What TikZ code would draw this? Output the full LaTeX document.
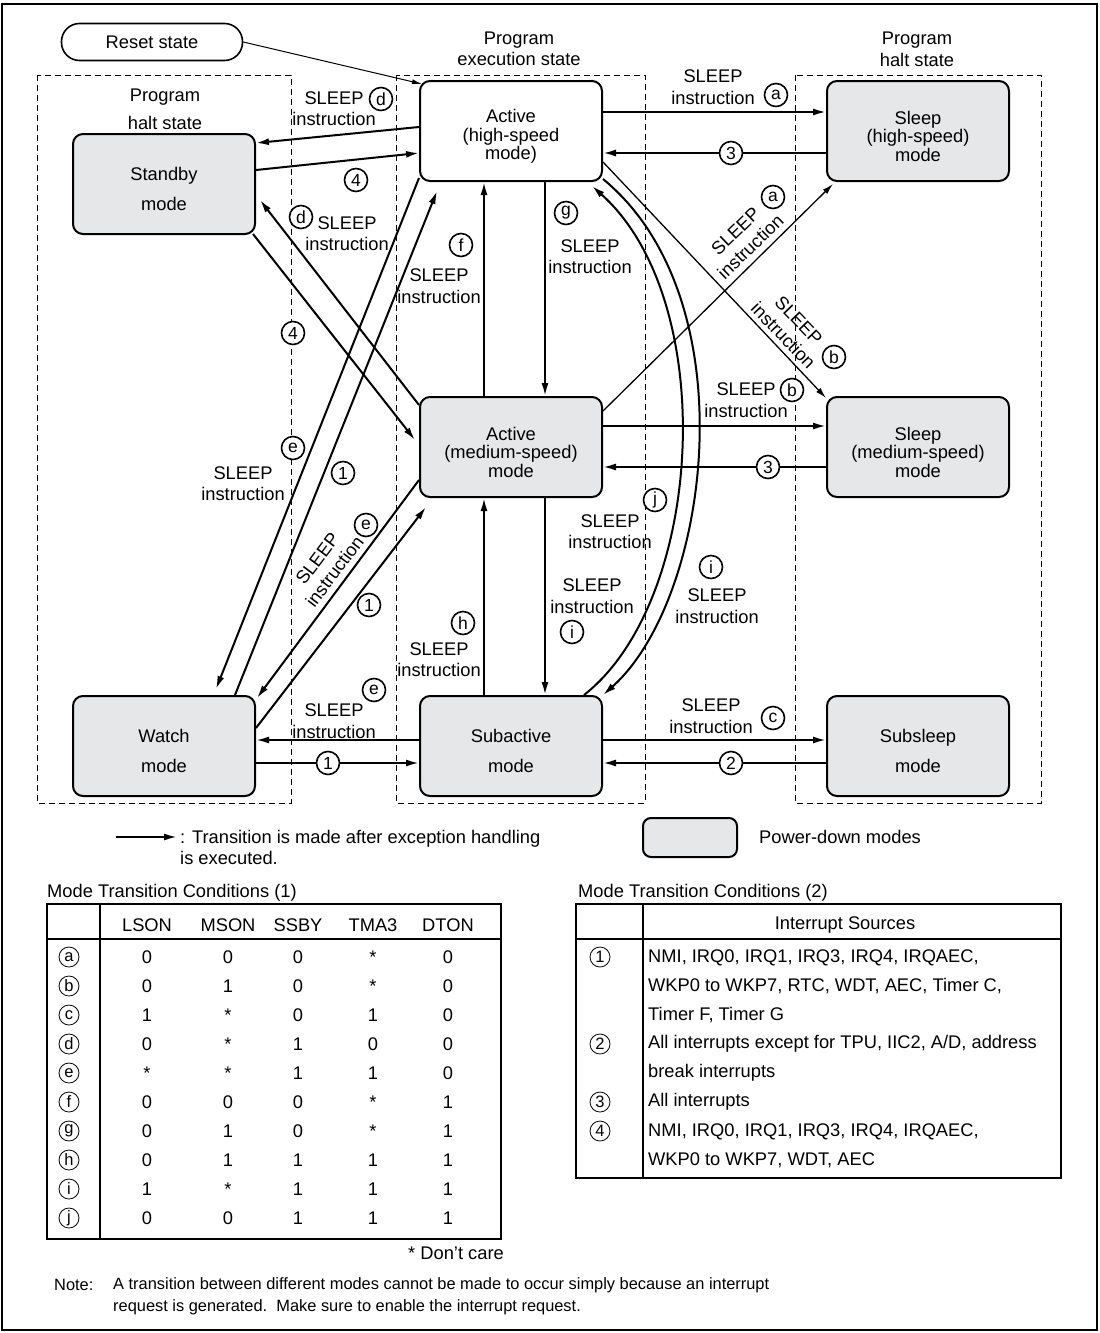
\documentclass[tikz,border=0pt]{standalone}
\usepackage{fontspec}
\setmainfont{Liberation Sans}
\usepackage{tikz}
\usetikzlibrary{arrows.meta}
\usetikzlibrary{calc}

\definecolor{pdgray}{RGB}{230,231,232}
\newcommand{\boxtop}{\rule{0pt}{24pt}}

\begin{document}
\begin{tikzpicture}[x=1pt, y=-1pt, font=\fontsize{18.3}{21.5}\selectfont,
  mode/.style={draw, line width=2pt, rounded corners=10pt, minimum width=182pt, minimum height=100pt, align=center, inner sep=0pt},
  pd/.style={mode, fill=pdgray},
  region/.style={line width=0.8pt, dash pattern=on 6pt off 4pt},
  tr/.style={line width=2pt, -{Latex[length=13pt,width=7pt]}},
  fine/.style={line width=1.3pt, -{Latex[length=11pt,width=6pt]}},
  cn/.style={circle, draw, line width=1.6pt, fill=white, inner sep=0pt, minimum size=23pt, font=\fontsize{17.5}{17.5}\selectfont},
  tc/.style={circle, draw, line width=0.8pt, inner sep=0pt, minimum size=20pt, font=\fontsize{16.5}{16.5}\selectfont},
  lbl/.style={align=center, inner sep=0pt},
  three/.style={font=\fontsize{18.3}{18.5}\selectfont},
  two/.style={font=\fontsize{18.3}{30}\selectfont}]

\useasboundingbox (0,0) rectangle (1100,1333);
\draw[line width=2pt] (2,4) rectangle (1097,1330);

% state regions
\draw[region] (37,75) rectangle (291,803);
\draw[region] (396,75) rectangle (645,803);
\draw[region] (795,75) rectangle (1041,803);
\node[lbl] (hltL) at (165,109) {Program\\[6.5pt]halt state};
\node[lbl] (exe) at (519,49) {Program\\execution state};
\node[lbl] (hltR) at (917,49.5) {Program\\halt state};

% modes
\node[draw, line width=1.6pt, rounded corners=18pt, minimum width=181pt, minimum height=37pt] (reset) at (152,42) {Reset state};
\node[pd, two] (stby) at (164,184) {\boxtop Standby\\mode};
\node[mode, three] (acth) at (511,131) {\boxtop Active\\(high-speed\\mode)};
\node[pd, three] (slph) at (918,131) {\boxtop Sleep\\(high-speed)\\mode};
\node[pd, three] (actm) at (511,447) {\boxtop Active\\(medium-speed)\\mode};
\node[pd, three] (slpm) at (918,447) {\boxtop Sleep\\(medium-speed)\\mode};
\node[pd, two] (watch) at (164,746) {\boxtop Watch\\mode};
\node[pd, two] (subact) at (511,746) {\boxtop Subactive\\mode};
\node[pd, two] (subslp) at (918,746) {\boxtop Subsleep\\mode};

% transitions
\draw[line width=1pt, -{Latex[length=10pt,width=5pt]}] (reset.east) -- ([xshift=3pt,yshift=-4pt]acth.north west);
\draw[tr] ([yshift=4pt]acth.west) -- ([yshift=41pt]stby.east);
\draw[tr] ([yshift=14pt]stby.east) -- ([yshift=-22pt]acth.west);
\draw[tr] ([yshift=19pt]acth.east) -- ([yshift=19pt]slph.west);
\draw[tr] ([yshift=-22pt]slph.west) -- ([yshift=-22pt]acth.east);
\draw[tr] ([yshift=21pt]actm.east) -- ([yshift=21pt]slpm.west);
\draw[tr] ([yshift=-20pt]slpm.west) -- ([yshift=-20pt]actm.east);
\draw[tr] ([yshift=6pt]subact.east) -- ([yshift=6pt]subslp.west);
\draw[tr] ([yshift=-17pt]subslp.west) -- ([yshift=-17pt]subact.east);
\draw[tr] ([yshift=6pt]subact.west) -- ([yshift=6pt]watch.east);
\draw[tr] ([yshift=-17pt]watch.east) -- ([yshift=-17pt]subact.west);
\draw[tr] ([xshift=-27pt]actm.north) -- ([xshift=-27pt]acth.south);
\draw[tr] ([xshift=34pt]acth.south) -- ([xshift=34pt]actm.north);
\draw[tr] ([xshift=-27pt]subact.north) -- ([xshift=-27pt]actm.south);
\draw[tr] ([xshift=34pt]actm.south) -- ([xshift=34pt]subact.north);
\draw[tr] ([yshift=-9pt]actm.north west) -- ([xshift=4pt,yshift=-16pt]stby.east);
\draw[tr] ([xshift=-3pt,yshift=1pt]stby.south east) -- ([xshift=-4pt,yshift=7pt]actm.west);
\draw[tr] ([yshift=4pt]acth.south west) -- ([xshift=52pt,yshift=6pt]watch.north);
\draw[tr] ([xshift=71pt]watch.north) -- ([xshift=-74pt,yshift=-9pt]acth.south);
\draw[tr] ([yshift=-33pt]actm.west) -- ([xshift=1pt,yshift=-3pt]watch.north east);
\draw[tr] ([yshift=18pt]watch.east) -- ([xshift=7pt,yshift=-9pt]actm.south west);
\draw[fine] ([yshift=-15pt]actm.north east) -- ([xshift=7pt,yshift=-2pt]slph.south west);
\draw[fine] ([yshift=-31pt]acth.east) -- ([yshift=-2pt]slpm.north west);
\draw[tr] ([xshift=-19pt]subact.north east) .. controls (705,600) and (720,300) .. ([xshift=-11pt,yshift=-4pt]acth.south east);
\draw[tr] ([yshift=3pt]acth.south east) .. controls (750,300) and (710,600) .. (subact.north east);

% labels
\node[lbl] (sd1) at (334,108.5) {SLEEP\\instruction};
\node[cn] (cd1) at (381,99) {d};
\node[cn] (c41) at (356,180) {4};
\node[cn] (cd2) at (301,217) {d};
\node[lbl] (sd2) at (347,233.5) {SLEEP\\instruction};
\node[cn] (c42) at (293,333) {4};
\node[cn] (ce1) at (293,448) {e};
\node[lbl] (se1) at (243,483.5) {SLEEP\\instruction};
\node[cn] (c11) at (343,473) {1};
\node[cn] (ce2) at (366,525) {e};
\node[lbl, rotate=53] (se2) at (326,565) {SLEEP\\instruction};
\node[cn] (c12) at (369,605) {1};
\node[cn] (cf) at (461,245) {f};
\node[lbl] (sf) at (439,286) {SLEEP\\instruction};
\node[cn] (cg) at (566,213) {g};
\node[lbl] (sg) at (590,256.5) {SLEEP\\instruction};
\node[lbl] (sa1) at (713,87) {SLEEP\\instruction};
\node[cn] (ca1) at (776,95) {a};
\node[cn] (c31) at (731,153) {3};
\node[lbl, rotate=44] (sa2) at (743,239) {SLEEP\\instruction};
\node[cn] (ca2) at (773,197) {a};
\node[lbl, rotate=-46] (sb1) at (791,328) {SLEEP\\instruction};
\node[cn] (cb1) at (834,357) {b};
\node[lbl] (sb2) at (746,400) {SLEEP\\instruction};
\node[cn] (cb2) at (792,390) {b};
\node[cn] (c32) at (768,467) {3};
\node[cn] (cj) at (655,500) {j};
\node[lbl] (sj) at (610,531.5) {SLEEP\\instruction};
\node[lbl] (si1) at (592,596) {SLEEP\\instruction};
\node[cn] (ci1) at (572,632) {i};
\node[cn] (ci2) at (711,567) {i};
\node[lbl] (si2) at (717,606) {SLEEP\\instruction};
\node[cn] (ch) at (463,623) {h};
\node[lbl] (sh) at (439,659.5) {SLEEP\\instruction};
\node[lbl] (se3) at (334,721) {SLEEP\\instruction};
\node[cn] (ce3) at (374,690) {e};
\node[cn] (c13) at (328,763) {1};
\node[lbl] (sc) at (711,716) {SLEEP\\instruction};
\node[cn] (cc) at (773,718) {c};
\node[cn] (c2) at (731,763) {2};

% legend
\coordinate (lgA) at (116,837);
\coordinate (lgB) at (177,837);
\draw[tr] (lgA) -- (lgB);
\node[lbl, align=left, anchor=west] (lgtxt) at (180,847.5) {: Transition is made after exception handling\\is executed.};
\node[draw, line width=2pt, rounded corners=8pt, fill=pdgray, minimum width=94pt, minimum height=39pt] (pdkey) at (690,837.5) {};
\node[anchor=west, inner sep=0pt] (pdtxt) at (759,837) {Power-down modes};

% table 1
\node[anchor=west, inner sep=0pt] (cap1) at (47,893) {Mode Transition Conditions (1)};
\draw[line width=1.2pt] (47,904) rectangle (501,1239);
\draw[line width=1.2pt] (47,939) -- (501,939);
\draw[line width=1.2pt] (100,904) -- (100,1239);
\node (h1) at (147,925) {LSON};
\node (h2) at (228,925) {MSON};
\node (h3) at (298,925) {SSBY};
\node (h4) at (373,925) {TMA3};
\node (h5) at (448,925) {DTON};
\foreach \k/\pa/\pb/\pc/\pd/\pe [count=\n] in {a/0/0/0/*/0, b/0/1/0/*/0, c/1/*/0/1/0, d/0/*/1/0/0, e/*/*/1/1/0,
    f/0/0/0/*/1, g/0/1/0/*/1, h/0/1/1/1/1, i/1/*/1/1/1, j/0/0/1/1/1} {
  \node[tc] (r\k) at (69,928+29*\n) {\k};
  \node (v\k1) at (147,928+29*\n) {\pa};
  \node (v\k2) at (228,928+29*\n) {\pb};
  \node (v\k3) at (298,928+29*\n) {\pc};
  \node (v\k4) at (373,928+29*\n) {\pd};
  \node (v\k5) at (448,928+29*\n) {\pe};
}
\node[anchor=east, inner sep=0pt] (dc) at (504,1253) {* Don't care};

% table 2
\node[anchor=west, inner sep=0pt] (cap2) at (578,893) {Mode Transition Conditions (2)};
\draw[line width=1.2pt] (576,904) rectangle (1061,1178);
\draw[line width=1.2pt] (576,939) -- (1061,939);
\draw[line width=1.2pt] (643,904) -- (643,1178);
\node (ihd) at (845,925) {Interrupt Sources};
\node[tc] (q1) at (600,957) {1};
\node[tc] (q2) at (600,1044) {2};
\node[tc] (q3) at (600,1102) {3};
\node[tc] (q4) at (600,1131) {4};
\node[lbl, align=left, anchor=west, font=\fontsize{18.3}{29}\selectfont] (s1) at (648,986) {NMI, IRQ0, IRQ1, IRQ3, IRQ4, IRQAEC,\\WKP0 to WKP7, RTC, WDT, AEC, Timer C,\\Timer F, Timer G};
\node[lbl, align=left, anchor=west, font=\fontsize{18.3}{29}\selectfont] (s2) at (648,1058.5) {All interrupts except for TPU, IIC2, A/D, address\\break interrupts};
\node[lbl, anchor=west] (s3) at (648,1102) {All interrupts};
\node[lbl, align=left, anchor=west, font=\fontsize{18.3}{29}\selectfont] (s4) at (648,1145.5) {NMI, IRQ0, IRQ1, IRQ3, IRQ4, IRQAEC,\\WKP0 to WKP7, WDT, AEC};

% note
\node[anchor=west, inner sep=0pt, font=\fontsize{16.4}{22}\selectfont] (nt) at (54,1285) {Note:};
\node[lbl, align=left, anchor=west, font=\fontsize{16.4}{22}\selectfont] (ntx) at (113,1296) {A transition between different modes cannot be made to occur simply because an interrupt\\request is generated.\ \ Make sure to enable the interrupt request.};

\end{tikzpicture}
\end{document}
